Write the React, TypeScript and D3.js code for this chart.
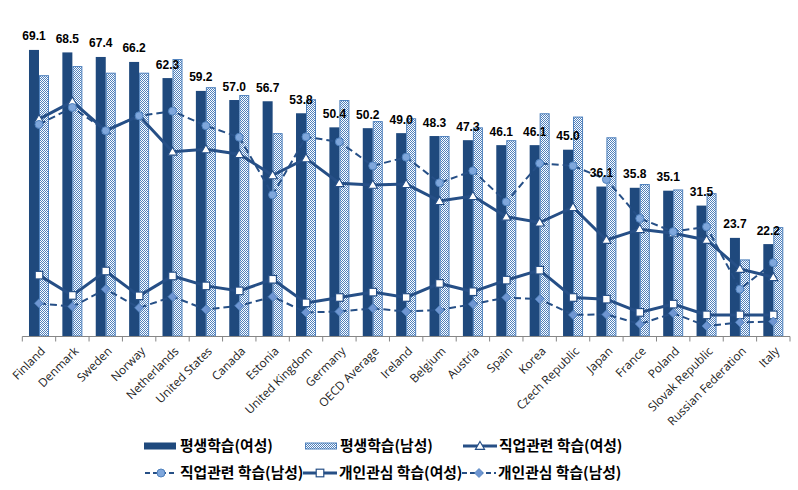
import React from "react";
import * as d3 from "d3";

const countries = ["Finland","Denmark","Sweden","Norway","Netherlands","United States","Canada","Estonia","United Kingdom","Germany","OECD Average","Ireland","Belgium","Austria","Spain","Korea","Czech Republic","Japan","France","Poland","Slovak Republic","Russian Federation","Italy"];
const lifelongFemale = [69.1,68.5,67.4,66.2,62.3,59.2,57.0,56.7,53.8,50.4,50.2,49.0,48.3,47.3,46.1,46.1,45.0,36.1,35.8,35.1,31.5,23.7,22.2];
const lifelongMale = [63.0,65.2,63.6,63.6,66.9,60.1,58.2,49.0,57.2,57.0,51.9,52.6,48.3,50.4,47.3,53.8,53.0,48.0,36.7,35.4,34.5,18.5,26.3];
const jobFemale = [52.4,56.6,49.6,53.2,44.5,45.1,43.9,38.8,42.9,36.9,36.5,36.7,32.6,33.8,28.8,27.4,31.1,23.2,25.8,24.8,23.2,16.2,14.2];
const jobMale = [51.1,55.2,49.6,53.2,54.3,50.8,48.0,34.1,48.1,46.9,41.1,43.2,37.0,39.9,32.4,41.7,41.1,37.8,28.4,25.2,26.4,11.3,17.7];
const personalFemale = [14.7,9.8,15.7,9.7,14.5,12.1,10.9,13.7,8.0,9.3,10.6,9.3,12.7,10.7,13.5,15.9,9.3,8.9,5.7,7.7,5.1,5.1,5.1];
const personalMale = [7.9,7.1,11.3,6.8,9.5,6.4,7.3,9.5,5.7,5.9,6.7,5.9,6.3,7.7,9.3,8.9,5.1,5.2,2.9,5.5,2.4,3.3,3.5];
const legendLabels = ["평생학습(여성)","평생학습(남성)","직업관련 학습(여성)","직업관련 학습(남성)","개인관심 학습(여성)","개인관심 학습(남성)"];

const W = 798, H = 490;
const DARK = "#1F497D";
const MID = "#4F81BD";
const LINE = "#264F86";

type MarkerKind = "triangle" | "circle" | "square" | "diamond";

function Marker({ kind, x, y }: { kind: MarkerKind; x: number; y: number }) {
  if (kind === "circle") return <circle cx={x} cy={y} r={4} fill="#7FA7DC" stroke={MID} strokeWidth={1} />;
  if (kind === "square") return <rect x={x - 3.8} y={y - 3.8} width={7.6} height={7.6} fill="#fff" stroke={LINE} strokeWidth={1.2} />;
  if (kind === "triangle") return <path d={`M${x},${y - 4.6}L${x + 4.6},${y + 3.4}L${x - 4.6},${y + 3.4}Z`} fill="#fff" stroke={LINE} strokeWidth={1.1} />;
  return <path d={`M${x},${y - 4.5}L${x + 4.5},${y}L${x},${y + 4.5}L${x - 4.5},${y}Z`} fill="#6F96D2" stroke={MID} strokeWidth={0.8} />;
}

export default function App() {
  const x = d3.scaleBand<string>().domain(countries).range([22.3, 790]).padding(0);
  const y = d3.scaleLinear().domain([0, 70]).range([336, 46.2]);
  const cx = (c: string) => (x(c) as number) + x.bandwidth() / 2;
  const line = d3.line<number>().x((_, i) => cx(countries[i])).y((v) => y(v));

  const series: { data: number[]; dash?: string; width: number; kind: MarkerKind }[] = [
    { data: jobFemale, width: 3, kind: "triangle" },
    { data: jobMale, width: 2, dash: "7,4", kind: "circle" },
    { data: personalFemale, width: 3, kind: "square" },
    { data: personalMale, width: 2, dash: "7,4", kind: "diamond" },
  ];

  const boundaries = d3.range(countries.length + 1).map((i) => 22.3 + i * x.bandwidth());
  const legendRow1 = 446, legendRow2 = 473;

  return (
    <svg width={W} height={H} style={{ position: "absolute", left: 0, top: 0, background: "#fff" }}>
      <defs>
        <pattern id="checker" width={2} height={2} patternUnits="userSpaceOnUse">
          <rect width={2} height={2} fill="#fff" />
          <rect x={0} y={0} width={1} height={1} fill={MID} />
          <rect x={1} y={1} width={1} height={1} fill={MID} />
        </pattern>
      </defs>
      <rect width={W} height={H} fill="#fff" />
      {countries.map((c, i) => (
        <g key={c}>
          <rect x={cx(c) - 10} y={y(lifelongFemale[i])} width={10} height={y(0) - y(lifelongFemale[i])} fill={DARK} />
          <rect x={cx(c) + 0.5} y={y(lifelongMale[i]) + 0.5} width={9} height={y(0) - y(lifelongMale[i]) - 0.5} fill="url(#checker)" stroke={MID} strokeWidth={1} />
        </g>
      ))}
      <line x1={22.3} x2={790} y1={336.5} y2={336.5} stroke="#868686" strokeWidth={1} />
      {boundaries.map((b, i) => (
        <line key={i} x1={b} x2={b} y1={336.5} y2={341.5} stroke="#868686" strokeWidth={1} />
      ))}
      {series.map((s, si) => (
        <g key={si}>
          <path d={line(s.data) || ""} fill="none" stroke={LINE} strokeWidth={s.width} strokeDasharray={s.dash} />
          {s.data.map((v, i) => (
            <Marker key={i} kind={s.kind} x={cx(countries[i])} y={y(v)} />
          ))}
        </g>
      ))}
      {countries.map((c, i) => (
        <text key={c} x={cx(c) - 5} y={y(lifelongFemale[i]) - 9.5} textAnchor="middle" fontFamily="Liberation Sans, Arial, sans-serif" fontWeight="bold" fontSize={12} fill="#000">
          {lifelongFemale[i].toFixed(1)}
        </text>
      ))}
      {countries.map((c) => (
        <text key={c} transform={`translate(${cx(c) + 4},${349}) rotate(-45)`} textAnchor="end" dy="0.35em" fontFamily="Open Sans, sans-serif" fontSize={11.8} fill="#222">
          {c}
        </text>
      ))}
      <g fontFamily="Noto Sans CJK KR, sans-serif" fontWeight="bold" fontSize={14.8} fill="#000">
        <rect x={144} y={legendRow1 - 3.5} width={32} height={7} fill={DARK} />
        <text x={180} y={legendRow1} dy="0.36em">{legendLabels[0]}</text>
        <rect x={305.5} y={legendRow1 - 3} width={31} height={6} fill="url(#checker)" stroke={MID} strokeWidth={1} />
        <text x={340} y={legendRow1} dy="0.36em">{legendLabels[1]}</text>
        <line x1={463} x2={497} y1={legendRow1} y2={legendRow1} stroke={LINE} strokeWidth={3} />
        <Marker kind="triangle" x={480} y={legendRow1} />
        <text x={499} y={legendRow1} dy="0.36em">{legendLabels[2]}</text>

        <line x1={145} x2={177} y1={legendRow2} y2={legendRow2} stroke={LINE} strokeWidth={2} strokeDasharray="5,3" />
        <Marker kind="circle" x={161} y={legendRow2} />
        <text x={180} y={legendRow2} dy="0.36em">{legendLabels[3]}</text>
        <line x1={303} x2={337} y1={legendRow2} y2={legendRow2} stroke={LINE} strokeWidth={3} />
        <Marker kind="square" x={320} y={legendRow2} />
        <text x={339} y={legendRow2} dy="0.36em">{legendLabels[4]}</text>
        <line x1={462} x2={496} y1={legendRow2} y2={legendRow2} stroke={LINE} strokeWidth={2} strokeDasharray="5,3" />
        <Marker kind="diamond" x={479} y={legendRow2} />
        <text x={498} y={legendRow2} dy="0.36em">{legendLabels[5]}</text>
      </g>
    </svg>
  );
}
